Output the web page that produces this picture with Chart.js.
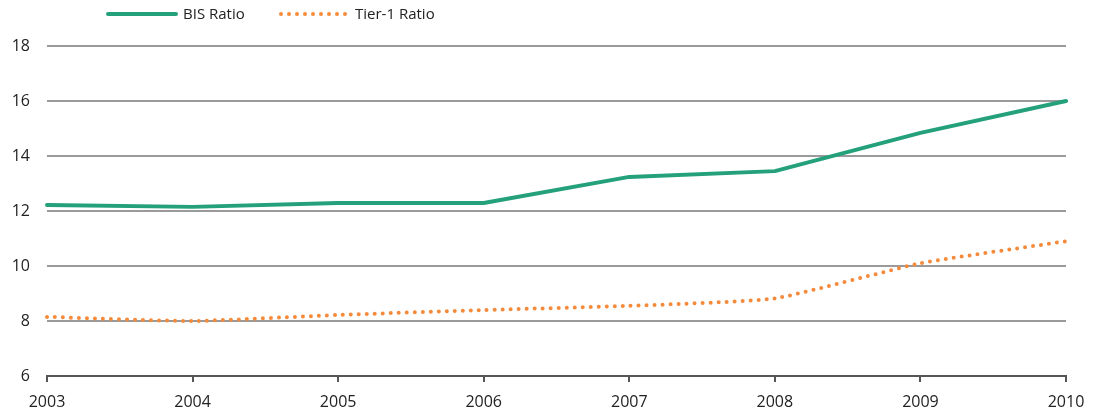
<!DOCTYPE html>
<html>
<head>
<meta charset="utf-8">
<script src="https://cdn.jsdelivr.net/npm/chart.js@4"></script>
<style>
  html, body { margin: 0; padding: 0; background: #fff; }
  #wrap { width: 1101px; height: 410px; position: relative; }
</style>
</head>
<body>
<div id="wrap"><canvas id="c" width="1101" height="410"></canvas></div>
<script>
const years = ['2003', '2004', '2005', '2006', '2007', '2008', '2009', '2010'];
const bisRatio = [12.22, 12.15, 12.29, 12.29, 13.24, 13.45, 14.84, 16.0];
const tier1Ratio = [8.15, 8.0, 8.22, 8.4, 8.55, 8.82, 10.1, 10.9];
const yTicks = [6, 8, 10, 12, 14, 16, 18];

const FONT = "'Open Sans', 'Noto Sans', sans-serif";

// Legend drawn as line samples (solid / dotted) followed by the series name
const lineLegend = {
  id: 'lineLegend',
  afterDraw(chart) {
    const ctx = chart.ctx;
    const items = [
      { ds: chart.data.datasets[0], x0: 108, x1: 176, tx: 183 },
      { ds: chart.data.datasets[1], x0: 281, x1: 348, tx: 355 }
    ];
    const y = 14;
    ctx.save();
    items.forEach(it => {
      ctx.beginPath();
      ctx.strokeStyle = it.ds.borderColor;
      ctx.lineWidth = it.ds.borderWidth;
      ctx.lineCap = it.ds.borderCapStyle || 'butt';
      ctx.setLineDash(it.ds.borderDash || []);
      ctx.moveTo(it.x0, y);
      ctx.lineTo(it.x1, y);
      ctx.stroke();
      ctx.setLineDash([]);
      ctx.fillStyle = '#222';
      ctx.font = '15px ' + FONT;
      ctx.textBaseline = 'middle';
      ctx.textAlign = 'left';
      ctx.fillText(it.ds.label, it.tx, y + 1);
    });
    ctx.restore();
  }
};

new Chart(document.getElementById('c'), {
  type: 'line',
  data: {
    labels: years,
    datasets: [
      {
        label: 'BIS Ratio',
        data: bisRatio,
        borderColor: '#24a07b',
        borderWidth: 4,
        borderCapStyle: 'round',
        borderJoinStyle: 'round',
        pointRadius: 0,
        tension: 0,
        fill: false
      },
      {
        label: 'Tier-1 Ratio',
        data: tier1Ratio,
        borderColor: '#f58a3a',
        borderWidth: 4,
        borderCapStyle: 'round',
        borderDash: [0, 8],
        pointRadius: 0,
        tension: 0.15,
        fill: false
      }
    ]
  },
  options: {
    responsive: false,
    animation: false,
    devicePixelRatio: 1,
    layout: { padding: { top: 46, right: 35, left: 0, bottom: 0 } },
    plugins: {
      legend: { display: false },
      tooltip: { enabled: false }
    },
    scales: {
      x: {
        offset: false,
        afterFit(scale) { scale.height = 34; },
        grid: {
          display: true,
          drawOnChartArea: false,
          drawTicks: true,
          tickLength: 6,
          color: '#555',
          lineWidth: 2
        },
        border: { display: true, color: '#555', width: 2 },
        ticks: {
          color: '#222',
          font: { family: FONT, size: 16 },
          padding: 11,
          maxRotation: 0,
          autoSkip: false
        }
      },
      y: {
        min: 6,
        max: 18,
        afterFit(scale) { scale.width = 47; },
        afterBuildTicks(scale) { scale.ticks = yTicks.map(v => ({ value: v })); },
        grid: {
          color: (c) => c.tick && c.tick.value === 6 ? 'rgba(0,0,0,0)' : '#9a9a9a',
          lineWidth: 2,
          drawTicks: false
        },
        border: { display: false },
        ticks: {
          color: '#222',
          font: { family: FONT, size: 16 },
          padding: 17
        }
      }
    }
  },
  plugins: [lineLegend]
});
</script>
</body>
</html>
